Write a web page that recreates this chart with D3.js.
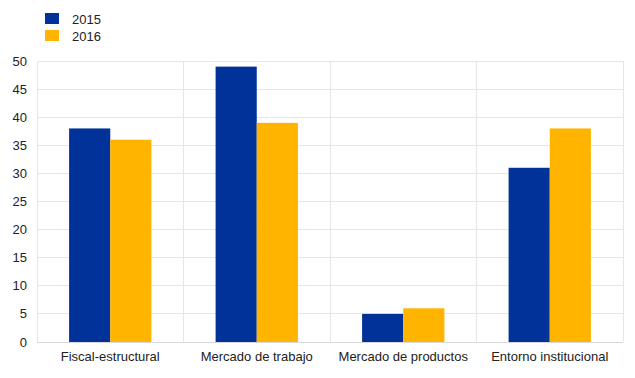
<!DOCTYPE html>
<html><head><meta charset="utf-8">
<script src="https://cdn.jsdelivr.net/npm/d3@7/dist/d3.min.js"></script>
<style>body{margin:0;background:#fff;} text{font-family:Arial,"Liberation Sans",sans-serif;}</style>
</head><body>
<svg id="c" width="635" height="378"></svg>
<script>
const categories = ["Fiscal-estructural","Mercado de trabajo","Mercado de productos","Entorno institucional"];
const seriesNames = ["2015","2016"];
const values2015 = [38, 49, 5, 31];
const values2016 = [36, 39, 6, 38];
const yTicks = [0,5,10,15,20,25,30,35,40,45,50];
const colors = ["#003299","#FFB400"];

const svg = d3.select("#c");
const m = {l:37, r:12, t:61, b:36};
const W = 635, H = 378;
const x = d3.scaleBand().domain(categories).range([m.l, W-m.r]).paddingInner(0).paddingOuter(0);
const y = d3.scaleLinear().domain([0,50]).range([H-m.b, m.t]);
const inner = d3.scaleBand().domain(seriesNames).range([0, x.bandwidth()]).paddingInner(0).paddingOuter(0.78);

// horizontal grid
svg.append("g").selectAll("line").data(yTicks).join("line")
  .attr("x1", m.l).attr("x2", W-m.r)
  .attr("y1", d=>y(d)).attr("y2", d=>y(d))
  .attr("stroke", "#e6e6e6").attr("stroke-width",1).attr("shape-rendering","crispEdges");
// vertical grid at category boundaries
const bounds = categories.map(c=>x(c)).concat([x(categories[categories.length-1])+x.bandwidth()]);
svg.append("g").selectAll("line").data(bounds).join("line")
  .attr("x1", d=>d).attr("x2", d=>d)
  .attr("y1", m.t).attr("y2", H-m.b)
  .attr("stroke", "#e6e6e6").attr("stroke-width",1).attr("shape-rendering","crispEdges");

// bars
const data = categories.map((c,i)=>({c, vals:[values2015[i], values2016[i]]}));
const g = svg.append("g");
data.forEach(d=>{
  d.vals.forEach((v,j)=>{
    g.append("rect")
      .attr("x", x(d.c)+inner(seriesNames[j]))
      .attr("width", inner.bandwidth())
      .attr("y", y(v)).attr("height", y(0)-y(v))
      .attr("fill", colors[j]);
  });
});

// bottom axis line
svg.append("line").attr("x1", m.l).attr("x2", W-m.r).attr("y1", y(0)).attr("y2", y(0))
  .attr("stroke","#d9d9d9").attr("stroke-width",1).attr("shape-rendering","crispEdges");

// y tick labels
svg.append("g").selectAll("text").data(yTicks).join("text")
  .attr("x", 27).attr("y", d=>y(d)).attr("dy","0.35em")
  .attr("text-anchor","end").attr("font-size",13).attr("fill","#222")
  .text(d=>d);

// x labels
svg.append("g").selectAll("text").data(categories).join("text")
  .attr("x", d=>x(d)+x.bandwidth()/2).attr("y", H-m.b+19)
  .attr("text-anchor","middle").attr("font-size",13).attr("fill","#222")
  .text(d=>d);

// legend
const lg = svg.append("g");
seriesNames.forEach((s,i)=>{
  lg.append("rect").attr("x",45).attr("y",13+i*17).attr("width",14).attr("height",11).attr("fill",colors[i]);
  lg.append("text").attr("x",72).attr("y",19+i*17).attr("dy","0.35em").attr("font-size",13).attr("fill","#222").text(s);
});
</script>
</body></html>
